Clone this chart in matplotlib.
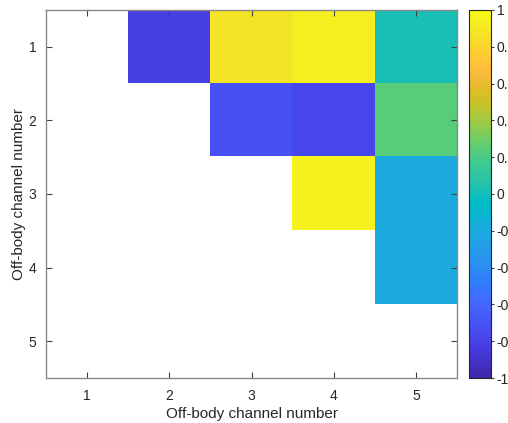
import numpy as np
import matplotlib
matplotlib.use("Agg")
import matplotlib.pyplot as plt
from matplotlib.colors import LinearSegmentedColormap

# Data (NaN = empty cell)
channels = [1, 2, 3, 4, 5]
row1 = [np.nan, -0.82, 0.88, 0.93, 0.02]
row2 = [np.nan, np.nan, -0.72, -0.78, 0.24]
row3 = [np.nan, np.nan, np.nan, 0.95, -0.20]
row4 = [np.nan, np.nan, np.nan, np.nan, -0.20]
row5 = [np.nan, np.nan, np.nan, np.nan, np.nan]
cbar_ticks = [-1, -0.8, -0.6, -0.4, -0.2, 0, 0.2, 0.4, 0.6, 0.8, 1]
xlabel = "Off-body channel number"
ylabel = "Off-body channel number"

parula_pts = [
    (0.2422, 0.1504, 0.6603), (0.2504, 0.1650, 0.7076), (0.2578, 0.1818, 0.7511),
    (0.2647, 0.1978, 0.7952), (0.2706, 0.2147, 0.8364), (0.2751, 0.2342, 0.8710),
    (0.2783, 0.2559, 0.8991), (0.2803, 0.2782, 0.9221), (0.2813, 0.3006, 0.9414),
    (0.2810, 0.3228, 0.9579), (0.2795, 0.3447, 0.9717), (0.2760, 0.3667, 0.9829),
    (0.2699, 0.3892, 0.9906), (0.2602, 0.4123, 0.9952), (0.2440, 0.4358, 0.9988),
    (0.2206, 0.4603, 0.9973), (0.1963, 0.4847, 0.9892), (0.1834, 0.5074, 0.9798),
    (0.1786, 0.5289, 0.9682), (0.1764, 0.5499, 0.9520), (0.1687, 0.5703, 0.9359),
    (0.1540, 0.5902, 0.9218), (0.1460, 0.6091, 0.9079), (0.1380, 0.6276, 0.8973),
    (0.1248, 0.6459, 0.8883), (0.1113, 0.6635, 0.8763), (0.0952, 0.6798, 0.8598),
    (0.0689, 0.6948, 0.8394), (0.0297, 0.7082, 0.8163), (0.0036, 0.7203, 0.7917),
    (0.0067, 0.7312, 0.7660), (0.0433, 0.7411, 0.7394), (0.0964, 0.7500, 0.7120),
    (0.1408, 0.7584, 0.6842), (0.1717, 0.7670, 0.6554), (0.1938, 0.7758, 0.6251),
    (0.2161, 0.7843, 0.5923), (0.2470, 0.7918, 0.5567), (0.2906, 0.7973, 0.5188),
    (0.3406, 0.8008, 0.4789), (0.3909, 0.8029, 0.4354), (0.4456, 0.8024, 0.3909),
    (0.5044, 0.7993, 0.3480), (0.5616, 0.7942, 0.3045), (0.6174, 0.7876, 0.2612),
    (0.6720, 0.7793, 0.2227), (0.7242, 0.7698, 0.1910), (0.7738, 0.7598, 0.1646),
    (0.8203, 0.7498, 0.1535), (0.8634, 0.7406, 0.1596), (0.9035, 0.7330, 0.1774),
    (0.9393, 0.7288, 0.2100), (0.9728, 0.7298, 0.2394), (0.9956, 0.7434, 0.2371),
    (0.9970, 0.7659, 0.2199), (0.9952, 0.7893, 0.2028), (0.9892, 0.8136, 0.1885),
    (0.9786, 0.8386, 0.1766), (0.9676, 0.8639, 0.1643), (0.9610, 0.8890, 0.1537),
    (0.9597, 0.9135, 0.1423), (0.9628, 0.9373, 0.1265), (0.9691, 0.9606, 0.1064),
    (0.9769, 0.9839, 0.0805),
]
parula = LinearSegmentedColormap.from_list("parula", parula_pts, N=256)
parula.set_bad("white")

plt.rcParams["font.family"] = ["Liberation Sans", "DejaVu Sans"]

data = np.ma.masked_invalid(np.array([row1, row2, row3, row4, row5]))

fig = plt.figure(figsize=(5.08, 4.23), dpi=100)
W, H = 508, 423
ax = fig.add_axes([46 / W, 1 - 378 / H, (457 - 46) / W, (378 - 10) / H])
cax = fig.add_axes([469 / W, 1 - 378 / H, (491 - 469) / W, (378 - 10) / H])

im = ax.imshow(data, cmap=parula, vmin=-1, vmax=1, aspect="auto",
               extent=[0.5, 5.5, 5.5, 0.5], interpolation="nearest")
ax.set_xticks(channels)
ax.set_yticks(channels)
ax.set_xlim(0.5, 5.5)
ax.set_ylim(5.5, 0.5)
tc = "#262626"
ax.tick_params(direction="in", length=4, width=0.8, colors="#404040",
               labelcolor=tc, labelsize=10, top=True, right=True)
ax.tick_params(axis="x", pad=8)
ax.tick_params(axis="y", pad=7)
for s in ax.spines.values():
    s.set_color("#888888")
    s.set_linewidth(1.0)
ax.set_xlabel(xlabel, fontsize=11, color=tc, labelpad=3)
ax.set_ylabel(ylabel, fontsize=11, color=tc, labelpad=2)

cb = fig.colorbar(im, cax=cax, ticks=cbar_ticks)
cb.ax.set_yticklabels([("%g" % t) for t in cbar_ticks])
cb.ax.tick_params(direction="out", length=2, width=0.8, colors="#404040",
                  labelcolor=tc, labelsize=10, pad=2)
cb.outline.set_edgecolor("#262626")
cb.outline.set_linewidth(0.8)

fig.savefig("out.png", dpi=100)
